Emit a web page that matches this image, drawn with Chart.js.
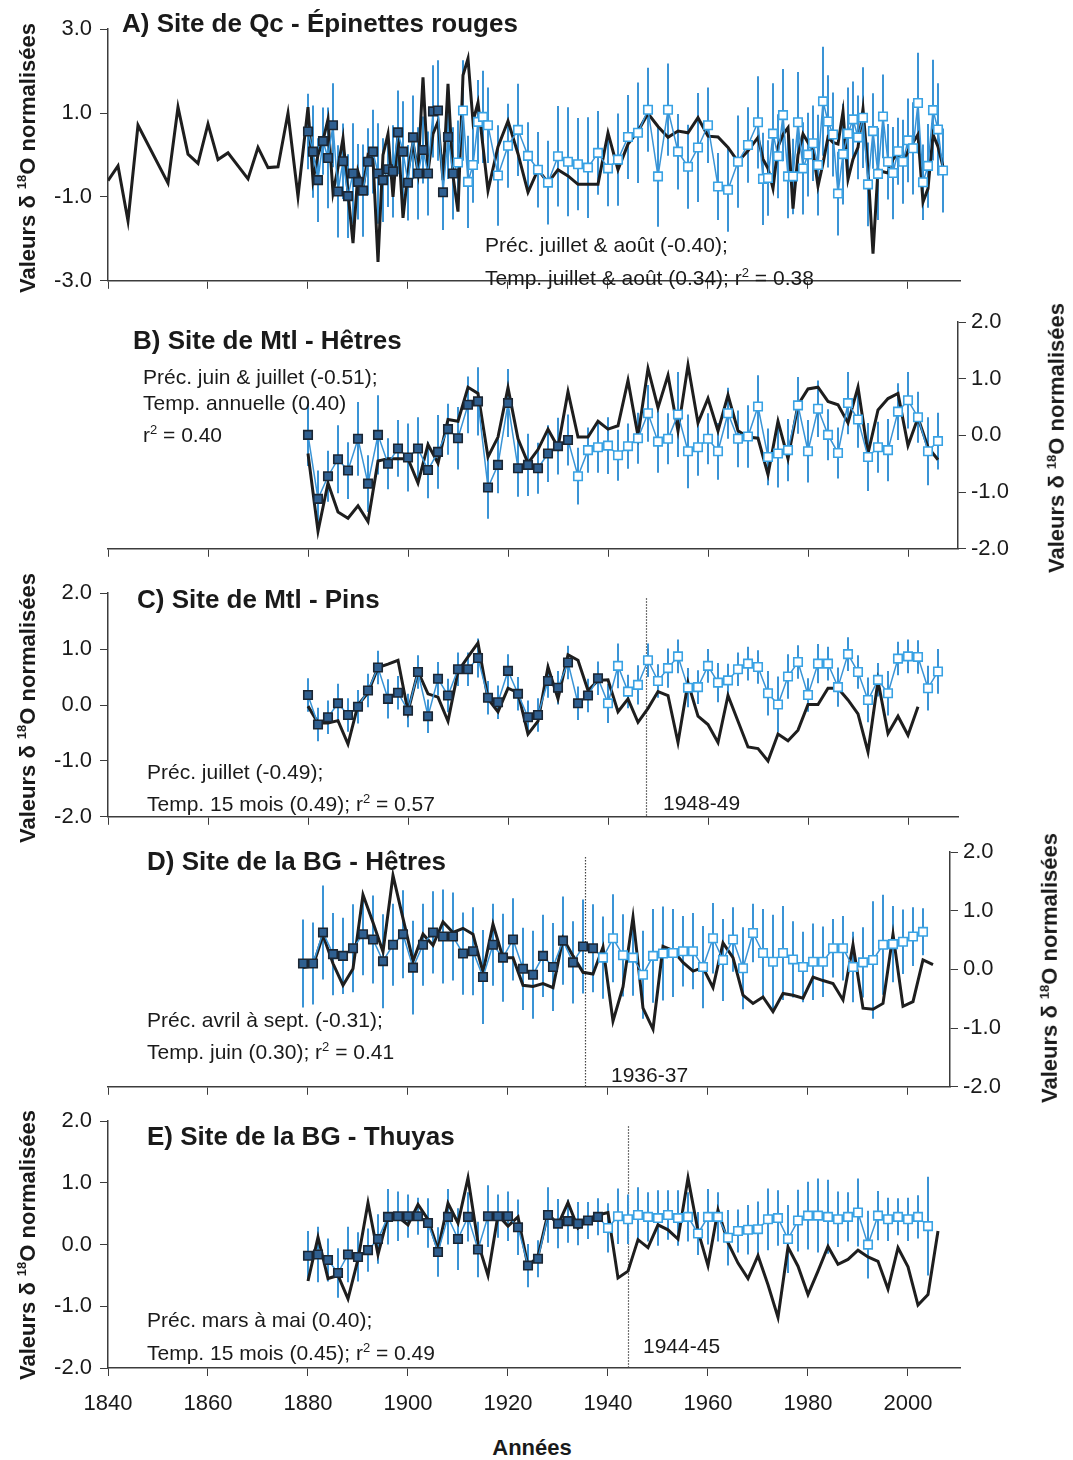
<!DOCTYPE html>
<html><head><meta charset="utf-8">
<script src="https://cdn.jsdelivr.net/npm/chart.js@4.4.1/dist/chart.umd.min.js"></script>
<style>
body{margin:0;background:#fff;width:1073px;height:1460px;position:relative;overflow:hidden;font-family:"Liberation Sans",Arial,sans-serif;color:#1a1a1a}
canvas{position:absolute;left:0}
.t{position:absolute;white-space:nowrap;line-height:1.2}
.ttl{font-weight:bold;font-size:26px}
.ann{font-size:21px}
.yt{position:absolute;font-weight:bold;font-size:22px;white-space:nowrap;line-height:1.2;transform:translate(-50%,-50%) rotate(-90deg)}
sup{font-size:13px;line-height:0}
</style></head><body>
<script>
// ---------------- DATA ----------------
const xTickYears = [1840,1860,1880,1900,1920,1940,1960,1980,2000];
const aYTicks = [-3,-1,1,3];
const bYTicks = [-2,-1,0,1,2];

const yearsEven = [1880,1882,1884,1886,1888,1890,1892,1894,1896,1898,1900,1902,1904,1906,1908,1910,1912,1914,1916,1918,1920,1922,1924,1926,1928,1930,1932,1934,1936,1938,1940,1942,1944,1946,1948,1950,1952,1954,1956,1958,1960,1962,1964,1966,1968,1970,1972,1974,1976,1978,1980,1982,1984,1986,1988,1990,1992,1994,1996,1998,2000,2002,2004,2006];
const yearsOdd = [1879,1881,1883,1885,1887,1889,1891,1893,1895,1897,1899,1901,1903,1905,1907,1909,1911,1913,1915,1917,1919,1921,1923,1925,1927,1929,1931,1933,1935,1937,1939,1941,1943,1945,1947,1949,1951,1953,1955,1957,1959,1961,1963,1965,1967,1969,1971,1973,1975,1977,1979,1981,1983,1985,1987,1989,1991,1993,1995,1997,1999,2001,2003,2005];

// A) Qc - Epinettes rouges
const aObsYears = [1840,1842,1844,1846,1852,1854,1856,1858,1860,1862,1864,1868,1870,1872,1874,1876,1878,
1880,1881,1882,1883,1884,1885,1886,1887,1888,1889,1890,1891,1892,1893,1894,1895,1896,1897,1898,1899,1900,1901,1902,1903,1904,1905,1906,1907,1908,1909,1910,1911,1912,1913,1914,1915,1916,
1918,1920,1922,1924,1926,1928,1930,1932,1934,1936,1938,1940,1942,1944,1946,1948,1950,1952,1954,1956,1958,1960,1962,1964,1966,1968,1970,
1971,1972,1973,1974,1975,1976,1977,1978,1979,1980,1981,1982,1983,1984,1985,1986,1987,1988,1989,1990,1991,1992,1993,1994,1995,1996,1997,1998,1999,2000,2001,2002,2003,2004,2005,2006,2007];
const aObs = [-0.61,-0.26,-1.57,0.71,-0.67,1.14,0.02,-0.20,0.74,-0.11,0.05,-0.57,0.18,-0.30,-0.28,1.00,-0.99,
1.14,-0.60,0.00,0.35,0.85,-0.90,-0.30,0.40,-0.90,-2.10,-0.40,-0.80,0.00,-0.10,-2.55,0.00,0.50,-1.00,0.50,-1.50,-0.40,0.30,-0.40,1.85,-0.40,0.50,0.80,-0.60,1.70,-0.50,-1.35,1.90,2.30,0.80,1.25,0.20,-0.85,
0.20,0.81,0.03,-0.89,-0.35,-0.66,-0.35,-0.50,-0.70,-0.70,-0.70,0.53,-0.35,0.26,0.57,0.99,0.68,0.42,0.57,0.53,0.89,0.45,0.43,0.18,-0.16,0.10,0.42,
-0.10,-0.32,-0.80,0.20,0.49,0.65,-1.28,0.00,0.50,0.30,0.10,-0.74,-0.20,0.42,0.30,0.26,1.03,-0.58,-0.10,0.18,1.10,-0.35,-2.35,-0.35,-0.40,-0.43,-0.10,0.03,-0.20,0.10,0.30,0.49,-1.12,-0.80,0.49,0.20,-0.28];
const aModYears = [1880,1881,1882,1883,1884,1885,1886,1887,1888,1889,1890,1891,1892,1893,1894,1895,1896,1897,1898,1899,1900,1901,1902,1903,1904,1905,1906,1907,1908,1909,1910,1911,1912,1913,1914,1915,1916,
1918,1920,1922,1924,1926,1928,1930,1932,1934,1936,1938,1940,1942,1944,1946,1948,1950,1952,1954,1956,1958,1960,1962,1964,1966,1968,1970,
1971,1972,1973,1974,1975,1976,1977,1978,1979,1980,1981,1982,1983,1984,1985,1986,1987,1988,1989,1990,1991,1992,1993,1994,1995,1996,1997,1998,1999,2000,2001,2002,2003,2004,2005,2006,2007];
const aMod = [0.56,0.08,-0.60,0.33,-0.07,0.71,-0.87,-0.15,-0.98,-0.44,-0.64,-0.85,-0.16,0.08,-0.44,-0.60,-0.34,-0.39,0.54,0.08,-0.66,0.42,-0.44,0.12,-0.44,1.04,1.06,-0.89,0.43,-0.44,-0.18,1.06,-0.64,-0.24,0.79,0.91,0.71,
-0.49,0.22,0.60,-0.02,-0.35,-0.66,-0.03,-0.16,-0.22,-0.30,0.05,-0.32,-0.11,0.43,0.53,1.08,-0.51,1.08,0.08,-0.28,0.18,0.71,-0.75,-0.83,-0.16,0.24,0.78,
-0.57,-0.55,0.51,-0.03,0.95,-0.51,-0.51,0.78,-0.32,0.01,0.28,-0.24,1.28,0.80,0.49,-0.92,0.02,0.51,0.85,0.42,0.89,-0.70,0.57,-0.45,0.92,-0.16,-0.43,0.09,-0.16,0.35,0.16,1.24,-0.65,-0.26,1.07,0.61,-0.37];
const aErr = [0.9,1.1,1.0,0.8,1.2,1.0,1.1,0.9,1.0,1.2,0.9,1.1,0.8,1.0,1.2,1.0,0.9,1.1,1.0,1.2,0.9,1.0,1.1,0.8,1.0,1.1,1.2,0.9,1.0,1.1,
1.0,1.2,1.1,0.9,1.0,1.1,0.9,
1.2,1.0,1.1,0.8,0.9,1.0,1.2,1.3,1.1,1.2,1.0,0.9,1.1,1.0,1.2,1.0,1.2,1.1,0.9,1.0,1.3,0.9,0.8,1.0,1.1,0.9,1.1,
1.1,0.9,1.2,1.0,1.1,1.0,0.9,1.2,1.1,1.0,0.9,1.2,1.3,1.1,1.0,1.0,1.2,1.1,0.9,1.0,1.2,1.0,0.9,1.1,1.0,0.9,1.1,0.8,1.0,1.0,1.1,1.2,0.9,1.0,1.2,1.1,1.0];

// B) Mtl - Hetres
const bObs = [-0.32,-1.69,-0.84,-1.35,-1.46,-1.24,-1.52,-0.45,-0.41,-0.41,-0.41,-0.84,-0.16,-0.49,0.28,0.25,0.85,0.74,-0.38,-0.03,0.84,-0.06,-0.49,-0.25,0.11,-0.21,0.77,-0.03,-0.03,0.25,0.11,0.17,0.97,-0.01,1.18,0.49,1.06,0.08,1.24,0.22,0.65,0.08,0.71,0.08,-0.03,-0.05,-0.69,0.25,-0.41,0.54,0.82,0.85,0.60,0.54,0.22,0.85,-0.32,0.45,0.65,0.74,-0.18,0.31,-0.21,-0.43];
const bMod = [0.01,-1.12,-0.72,-0.42,-0.62,-0.06,-0.85,0.01,-0.50,-0.23,-0.39,-0.23,-0.61,-0.29,0.11,-0.05,0.54,0.60,-0.92,-0.52,0.57,-0.58,-0.52,-0.58,-0.32,-0.19,-0.08,-0.72,-0.26,-0.21,-0.18,-0.35,-0.19,-0.05,0.39,-0.11,-0.06,0.37,-0.28,-0.21,-0.06,-0.28,0.39,-0.06,-0.02,0.51,-0.38,-0.32,-0.26,0.53,-0.28,0.47,0.01,-0.31,0.57,0.28,-0.38,-0.21,-0.26,0.42,0.62,0.32,-0.28,-0.10];
const bErr = [0.55,0.5,0.45,0.6,0.5,0.65,0.5,0.7,0.45,0.5,0.6,0.55,0.5,0.65,0.45,0.55,0.5,0.6,0.55,0.5,0.6,0.5,0.55,0.45,0.5,0.5,0.45,0.5,0.4,0.45,0.5,0.45,0.4,0.45,0.5,0.55,0.45,0.75,0.65,0.5,0.45,0.5,0.45,0.5,0.55,0.55,0.5,0.6,0.55,0.5,0.55,0.5,0.45,0.45,0.55,0.5,0.6,0.45,0.55,0.5,0.5,0.45,0.6,0.5];

// C) Mtl - Pins
const cObs = [-0.02,-0.32,-0.32,-0.28,-0.70,0.00,0.22,0.67,0.73,0.80,-0.12,0.60,0.20,0.14,-0.29,0.60,0.86,1.11,0.11,-0.12,0.30,0.22,-0.52,-0.29,0.68,0.11,0.90,0.80,0.26,0.44,0.45,-0.12,0.11,-0.31,-0.06,0.24,0.17,-0.67,0.40,-0.20,-0.35,-0.67,0.17,-0.29,-0.75,-0.78,-1.00,-0.52,-0.64,-0.45,0.01,0.01,0.30,0.30,0.09,-0.16,-0.84,0.43,-0.51,-0.20,-0.54,-0.03];
const cMod = [0.18,-0.35,-0.22,0.03,-0.18,-0.03,0.26,0.67,0.11,0.22,-0.10,0.59,-0.20,0.47,0.17,0.64,0.64,0.84,0.13,0.05,0.61,0.20,-0.22,-0.18,0.43,0.31,0.76,0.03,0.17,0.48,0.03,0.70,0.24,0.36,0.80,0.43,0.66,0.87,0.31,0.32,0.70,0.40,0.44,0.64,0.74,0.68,0.21,0.01,0.51,0.77,0.18,0.74,0.74,0.32,0.91,0.59,0.09,0.45,0.21,0.83,0.87,0.86,0.30,0.60];
const cErr = [0.3,0.3,0.3,0.35,0.3,0.3,0.3,0.3,0.35,0.3,0.3,0.3,0.3,0.3,0.3,0.3,0.3,0.35,0.3,0.3,0.3,0.3,0.3,0.3,0.3,0.3,0.3,0.3,0.3,0.3,0.35,0.4,0.3,0.35,0.3,0.3,0.35,0.3,0.35,0.3,0.3,0.35,0.3,0.3,0.3,0.3,0.4,0.5,0.4,0.3,0.3,0.35,0.3,0.35,0.3,0.3,0.4,0.3,0.4,0.3,0.3,0.3,0.4,0.4];

// D) BG - Hetres
const dObs = [0.03,0.06,0.58,0.10,-0.27,0.01,1.27,0.80,0.30,1.60,0.87,0.14,0.60,0.41,0.81,0.63,0.70,0.60,-0.05,0.77,0.20,0.20,-0.27,-0.29,-0.24,-0.31,0.53,0.23,-0.05,-0.08,0.38,-0.88,-0.30,0.89,-0.66,-1.02,0.39,0.32,0.12,-0.03,0.03,-0.31,0.45,0.20,-0.44,-0.58,-0.47,-0.72,-0.41,-0.44,-0.49,-0.13,-0.19,-0.24,-0.52,0.42,-0.66,-0.68,-0.58,0.60,-0.63,-0.55,0.16,0.08];
const dMod = [0.10,0.10,0.63,0.26,0.23,0.36,0.60,0.51,0.14,0.42,0.60,0.03,0.42,0.63,0.56,0.56,0.27,0.31,-0.13,0.42,0.20,0.51,0.01,-0.09,0.23,0.04,0.49,0.12,0.39,0.36,0.20,0.53,0.24,0.20,-0.09,0.23,0.27,0.28,0.31,0.31,0.04,0.53,0.16,0.51,0.02,0.62,0.28,0.13,0.28,0.17,0.04,0.13,0.13,0.36,0.36,0.04,0.12,0.16,0.42,0.43,0.47,0.56,0.64];
const dErr = [0.75,0.7,0.8,0.7,0.65,0.75,0.7,0.75,0.8,0.7,0.75,0.8,0.7,0.7,0.8,0.75,0.7,0.75,0.8,0.7,0.75,0.7,0.7,0.75,0.7,0.75,0.75,0.7,0.8,0.75,0.7,0.75,0.7,0.65,0.75,0.8,0.8,0.75,0.6,0.65,0.7,0.6,0.7,0.55,0.7,0.5,0.75,0.8,0.8,0.65,0.6,0.65,0.6,0.5,0.55,0.6,0.6,1.0,0.85,0.65,0.55,0.5,0.4];

// E) BG - Thuyas
const eObs = [-0.59,0.12,-0.55,-0.50,-0.88,-0.24,0.68,-0.16,0.46,0.45,0.32,0.65,0.41,-0.08,0.67,0.35,1.08,0.03,-0.50,0.48,0.30,0.45,-0.35,-0.19,0.51,0.32,0.68,0.27,0.41,0.48,0.52,-0.54,-0.43,0.08,-0.05,0.32,0.24,0.09,1.08,0.22,-0.34,0.56,0.03,-0.30,-0.55,-0.18,-0.65,-1.18,-0.04,-0.35,-0.81,-0.43,-0.03,-0.32,-0.24,-0.09,-0.20,-0.27,-0.72,-0.05,-0.36,-0.98,-0.81,0.22];
const eMod = [-0.18,-0.16,-0.25,-0.46,-0.16,-0.20,-0.09,0.09,0.45,0.46,0.46,0.46,0.35,-0.12,0.45,0.09,0.45,-0.08,0.46,0.46,0.46,0.28,-0.34,-0.23,0.48,0.34,0.38,0.34,0.39,0.45,0.27,0.46,0.41,0.48,0.45,0.43,0.48,0.43,0.45,0.18,0.45,0.45,0.11,0.22,0.24,0.25,0.41,0.43,0.09,0.39,0.47,0.47,0.45,0.41,0.45,0.52,0.00,0.47,0.41,0.45,0.41,0.45,0.30];
const eErr = [0.4,0.45,0.35,0.4,0.45,0.4,0.35,0.4,0.45,0.4,0.35,0.3,0.4,0.4,0.45,0.5,0.4,0.45,0.5,0.35,0.4,0.45,0.35,0.3,0.45,0.4,0.35,0.35,0.3,0.3,0.4,0.45,0.4,0.45,0.4,0.45,0.4,0.45,0.4,0.35,0.45,0.4,0.45,0.35,0.4,0.45,0.5,0.45,0.55,0.5,0.55,0.6,0.6,0.45,0.4,0.55,0.55,0.4,0.35,0.3,0.35,0.35,0.8];

const calibrationEnd = [1909, 1932, 1938, 1937, 1938];
const breakYears = [null, null, 1947.6, 1935.4, 1944];

// ---------------- LAYOUT / STYLE ----------------
const BLUE = '#3a94d6', FILL = '#2f5f90', OPEN = '#38a2e4', BLACK = '#1e1e1e', AX = '#3c3c3c';
const FONT = '"Liberation Sans", Arial, sans-serif';
const TICKSIZE = 22;
const panels = [
 {obsYears:aObsYears, obs:aObs, modYears:aModYears, mod:aMod, err:aErr, yTicks:aYTicks, min:-3, max:3, top:28, bottom:288, side:'left', right:960, xLabels:false},
 {obsYears:yearsEven, obs:bObs, modYears:yearsEven, mod:bMod, err:bErr, yTicks:bYTicks, min:-2, max:2, top:322, bottom:553, side:'right', right:958, xLabels:false},
 {obsYears:yearsEven, obs:cObs, modYears:yearsEven, mod:cMod, err:cErr, yTicks:bYTicks, min:-2, max:2, top:592, bottom:824, side:'left', right:958, xLabels:false},
 {obsYears:yearsOdd, obs:dObs, modYears:yearsOdd, mod:dMod, err:dErr, yTicks:bYTicks, min:-2, max:2, top:852, bottom:1091, side:'right', right:950, xLabels:false},
 {obsYears:yearsEven, obs:eObs, modYears:yearsEven, mod:eMod, err:eErr, yTicks:bYTicks, min:-2, max:2, top:1120, bottom:1368, side:'left', right:960, xLabels:true}
];

function pts(xs, ys){ const out=[]; for(let k=0;k<Math.min(xs.length,ys.length);k++) out.push({x:xs[k],y:ys[k]}); return out; }

panels.forEach((p,i)=>{
  const padTop = 20, axisH = p.xLabels ? 66 : 14;
  const h = padTop + (p.bottom - p.top) + axisH;
  const cv = document.createElement('canvas');
  cv.width = 1073; cv.height = h;
  cv.style.top = (p.top - padTop) + 'px'; cv.style.width = '1073px'; cv.style.height = h + 'px';
  document.body.appendChild(cv);
  const calEnd = calibrationEnd[i], brk = breakYears[i];
  const xMax = 1840 + (p.right - 108) / 5;
  const yW = p.side === 'left' ? 108 : 1073 - p.right;
  const extras = {
    id:'extras'+i,
    beforeDatasetsDraw(chart){
      const {ctx, scales:{x, y}} = chart;
      ctx.save();
      if (brk !== null) {
        ctx.strokeStyle = '#444'; ctx.lineWidth = 1.2; ctx.setLineDash([1.5, 1.5]);
        const bx = Math.round(x.getPixelForValue(brk)) + 0.5;
        ctx.beginPath(); ctx.moveTo(bx, y.getPixelForValue(p.max) + 5); ctx.lineTo(bx, y.getPixelForValue(p.min)); ctx.stroke();
        ctx.setLineDash([]);
      }
      ctx.strokeStyle = BLUE; ctx.lineWidth = 2;
      const n = Math.min(p.modYears.length, p.mod.length, p.err.length);
      for (let k = 0; k < n; k++) {
        const px = x.getPixelForValue(p.modYears[k]);
        ctx.beginPath();
        ctx.moveTo(px, y.getPixelForValue(p.mod[k] - p.err[k]));
        ctx.lineTo(px, y.getPixelForValue(p.mod[k] + p.err[k]));
        ctx.stroke();
      }
      ctx.restore();
    }
  };
  new Chart(cv, {
    type:'line',
    data:{datasets:[
      {data: pts(p.modYears, p.mod), borderColor: BLUE, borderWidth: 1.5, tension: 0,
       pointStyle:'rect', pointRadius: 6, pointBorderWidth: 1.6,
       pointBackgroundColor: c => (c.raw && c.raw.x <= calEnd) ? FILL : '#ffffff',
       pointBorderColor: c => (c.raw && c.raw.x <= calEnd) ? '#1b2633' : OPEN},
      {data: pts(p.obsYears, p.obs), borderColor: BLACK, borderWidth: 3, tension: 0, pointRadius: 0, borderJoinStyle:'miter'}
    ]},
    options:{
      responsive:false, animation:false, devicePixelRatio:1,
      layout:{padding: p.side === 'left' ? {top:padTop, left:0, right:1073 - p.right, bottom:0} : {top:padTop, left:108, right:0, bottom:0}},
      plugins:{legend:{display:false}, tooltip:{enabled:false}},
      scales:{
        x:{type:'linear', min:1840, max:xMax,
           afterBuildTicks: s => { s.ticks = xTickYears.map(v => ({value:v})); },
           afterFit: s => { s.height = axisH; },
           ticks:{display:p.xLabels, color:'#1a1a1a', font:{size:TICKSIZE, family:FONT}, padding:15, maxRotation:0, autoSkip:false, callback: v => String(v)},
           grid:{drawOnChartArea:false, drawTicks:true, tickLength:8, color:AX, lineWidth:1},
           border:{display:true, color:AX, width:1.5}},
        y:{type:'linear', position:p.side, min:p.min, max:p.max,
           afterBuildTicks: s => { s.ticks = p.yTicks.map(v => ({value:v})); },
           afterFit: s => { s.width = yW; },
           ticks:{color:'#1a1a1a', font:{size:TICKSIZE, family:FONT}, padding: p.side === 'left' ? 8 : 5, callback: v => Number(v).toFixed(1)},
           grid:{drawOnChartArea:false, drawTicks:true, tickLength:8, color:AX, lineWidth:1},
           border:{display:true, color:AX, width:1.5}}
      }
    },
    plugins:[extras]
  });
});

// ---------------- TEXT ----------------
function txt(html, x, yc, cls, size){
  const d = document.createElement('div'); d.className = 't ' + cls; d.innerHTML = html;
  d.style.left = x + 'px'; d.style.top = (yc - size * 0.6) + 'px';
  document.body.appendChild(d);
}
function ytitle(cx, cy){
  const d = document.createElement('div'); d.className = 'yt';
  d.innerHTML = 'Valeurs δ <sup>18</sup>O normalisées';
  d.style.left = cx + 'px'; d.style.top = cy + 'px';
  document.body.appendChild(d);
}
txt('A) Site de Qc - Épinettes rouges', 122, 24, 'ttl', 26);
txt('Préc. juillet &amp; août (-0.40);', 485, 245, 'ann', 21);
txt('Temp. juillet &amp; août (0.34); r<sup>2</sup> = 0.38', 485, 278, 'ann', 21);
txt('B) Site de Mtl - Hêtres', 133, 341, 'ttl', 26);
txt('Préc. juin &amp; juillet (-0.51);', 143, 377, 'ann', 21);
txt('Temp. annuelle (0.40)', 143, 403, 'ann', 21);
txt('r<sup>2</sup> = 0.40', 143, 435, 'ann', 21);
txt('C) Site de Mtl - Pins', 137, 600, 'ttl', 26);
txt('Préc. juillet (-0.49);', 147, 772, 'ann', 21);
txt('Temp. 15 mois (0.49); r<sup>2</sup> = 0.57', 147, 804, 'ann', 21);
txt('1948-49', 663, 803, 'ann', 21);
txt('D) Site de la BG - Hêtres', 147, 862, 'ttl', 26);
txt('Préc. avril à sept. (-0.31);', 147, 1020, 'ann', 21);
txt('Temp. juin (0.30); r<sup>2</sup> = 0.41', 147, 1052, 'ann', 21);
txt('1936-37', 611, 1075, 'ann', 21);
txt('E) Site de la BG - Thuyas', 147, 1137, 'ttl', 26);
txt('Préc. mars à mai (0.40);', 147, 1320, 'ann', 21);
txt('Temp. 15 mois (0.45); r<sup>2</sup> = 0.49', 147, 1353, 'ann', 21);
txt('1944-45', 643, 1346, 'ann', 21);
ytitle(28, 158); ytitle(1057, 438); ytitle(28, 708); ytitle(1050, 968); ytitle(28, 1245);
const an = document.createElement('div'); an.className = 't'; an.style.fontWeight = 'bold'; an.style.fontSize = '22px';
an.textContent = 'Années'; an.style.left = '532px'; an.style.top = '1448px'; an.style.transform = 'translate(-50%,-50%)';
document.body.appendChild(an);
</script>
</body></html>
